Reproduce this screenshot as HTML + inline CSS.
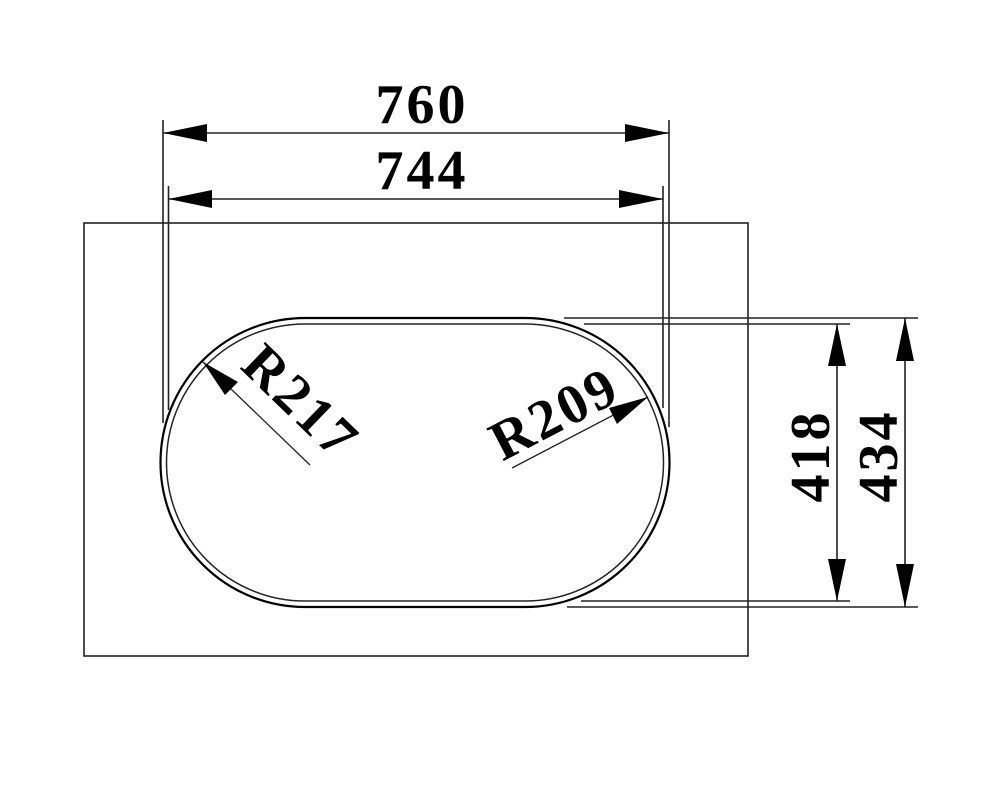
<!DOCTYPE html>
<html><head><meta charset="utf-8"><style>html,body{margin:0;padding:0;background:#fff}svg{display:block}</style></head>
<body>
<svg width="1000" height="800" viewBox="0 0 1000 800" xmlns="http://www.w3.org/2000/svg">
<g fill="none" stroke="#222" stroke-width="1.6">
<rect x="84" y="223" width="664" height="433"/>
<path d="M305 318 H525 A144.5 144.5 0 0 1 525 607 H305 A144.5 144.5 0 0 1 305 318 Z" stroke="#000" stroke-width="2.2"/>
<path d="M305 324 H525 A138.5 138.5 0 0 1 525 601 H305 A138.5 138.5 0 0 1 305 324 Z" stroke-width="1.5"/>
<line x1="163" y1="120" x2="163" y2="423"/>
<line x1="168.5" y1="186" x2="168.5" y2="410"/>
<line x1="669" y1="120" x2="669" y2="427"/>
<line x1="663" y1="186" x2="663" y2="408"/>
<line x1="163" y1="133" x2="669" y2="133"/>
<line x1="168.5" y1="199" x2="663" y2="199"/>
<line x1="564" y1="318" x2="918" y2="318"/>
<line x1="584" y1="324" x2="850" y2="324"/>
<line x1="581" y1="601" x2="850" y2="601"/>
<line x1="567" y1="607" x2="918" y2="607"/>
<line x1="837" y1="324" x2="837" y2="601"/>
<line x1="905" y1="318" x2="905" y2="607"/>
<line x1="203" y1="362" x2="310" y2="465" stroke-width="1.3"/>
<line x1="512" y1="468" x2="648" y2="397" stroke-width="1.3"/>
</g>
<g fill="#000">
<polygon points="163,133 207,124 207,142"/>
<polygon points="669,133 625,124 625,142"/>
<polygon points="168.5,199 212,190 212,208"/>
<polygon points="663,199 619,190 619,208"/>
<polygon points="837,324 828,366 846,366"/>
<polygon points="837,601 828,559 846,559"/>
<polygon points="905,318 896,361 914,361"/>
<polygon points="905,607 896,564 914,564"/>
<polygon points="203,362 238,382 225,395"/>
<polygon points="648,397 617,424 609,408"/>
</g>
<g font-family="'Liberation Serif',serif" font-weight="bold" font-size="56" fill="#000" text-anchor="middle" letter-spacing="3">
<text x="422" y="123">760</text>
<text x="422" y="189">744</text>
<text transform="translate(829,456) rotate(-90)">418</text>
<text transform="translate(897,456) rotate(-90)">434</text>
<text transform="translate(288,415) rotate(44)">R217</text>
<text transform="translate(563,430) rotate(-27.6)">R209</text>
</g>
</svg>
</body></html>
